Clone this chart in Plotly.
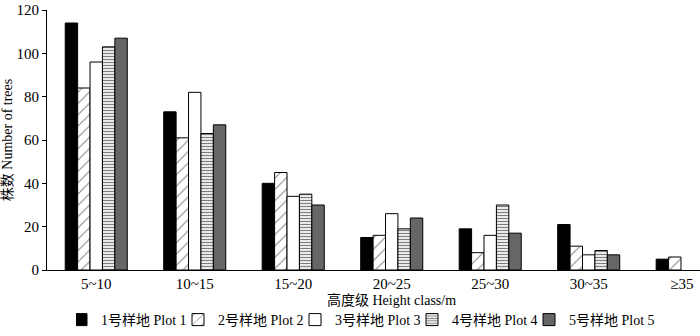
import plotly.graph_objects as go

categories = ["5~10", "10~15", "15~20", "20~25", "25~30", "30~35", "≥35"]
plot1 = [114, 73, 40, 15, 19, 21, 5]
plot2 = [84, 61, 45, 16, 8, 11, 6]
plot3 = [96, 82, 34, 26, 16, 7, None]
plot4 = [103, 63, 35, 19, 30, 9, None]
plot5 = [107, 67, 30, 24, 17, 7, None]
series_names = ["1号样地 Plot 1", "2号样地 Plot 2", "3号样地 Plot 3", "4号样地 Plot 4", "5号样地 Plot 5"]
y_ticks = [0, 20, 40, 60, 80, 100, 120]

FONT = "Liberation Serif, 'Times New Roman', 'Noto Sans CJK SC', serif"

styles = [
    dict(color="#000000"),
    dict(color="#ffffff", pattern=dict(shape="/", fgcolor="#000000", bgcolor="#ffffff", size=8, solidity=0.12)),
    dict(color="#ffffff"),
    dict(color="#ffffff", pattern=dict(shape="-", fgcolor="#000000", bgcolor="#ffffff", size=3, solidity=0.45)),
    dict(color="#666666"),
]

fig = go.Figure()
for name, vals, st in zip(series_names, [plot1, plot2, plot3, plot4, plot5], styles):
    marker = dict(line=dict(color="#000000", width=1), **st)
    fig.add_trace(go.Bar(x=list(range(len(categories))), y=vals, name=name, marker=marker))

# the last tick label sits slightly left of its group, as in the reference
tick_pos = [float(i) for i in range(len(categories))]
tick_pos[-1] -= 0.055

fig.update_layout(
    width=700, height=336,
    margin=dict(l=47, r=0, t=10, b=66, autoexpand=False),
    paper_bgcolor="white", plot_bgcolor="white",
    barmode="group", bargap=0.37, bargroupgap=0,
    font=dict(family=FONT, size=14, color="#000000"),
    showlegend=True,
    legend=dict(orientation="h", xref="container", x=76/700, xanchor="left",
                yref="container", y=0.0, yanchor="bottom",
                font=dict(size=14), entrywidth=87, itemwidth=30, indentation=-15,
                bgcolor="rgba(0,0,0,0)"),
    xaxis=dict(
        tickmode="array", tickvals=tick_pos, ticktext=categories,
        range=[-0.5, 6.13], showline=True, linecolor="#000000", linewidth=1,
        ticks="", showgrid=False, zeroline=False, automargin=False,
        ticklabeloverflow="allow", tickfont=dict(size=15),
    ),
    yaxis=dict(
        range=[0, 120], tickmode="array", tickvals=y_ticks,
        showline=True, linecolor="#000000", linewidth=1,
        ticks="outside", ticklen=4, tickcolor="#000000",
        showgrid=False, zeroline=False, tickfont=dict(size=15), automargin=False,
        ticklabeloverflow="allow",
        title=dict(text="株数 Number of trees", font=dict(size=14), standoff=8),
    ),
    annotations=[dict(text="高度级 Height class/m", xref="paper", yref="paper",
                      x=(391 - 47) / 653, y=(270 - 300) / 260, xanchor="center", yanchor="middle",
                      showarrow=False, font=dict(size=14))],
)

fig.write_html("out.html", config={"displayModeBar": False},
               post_script="document.body.style.margin='0';document.body.style.padding='0';")
